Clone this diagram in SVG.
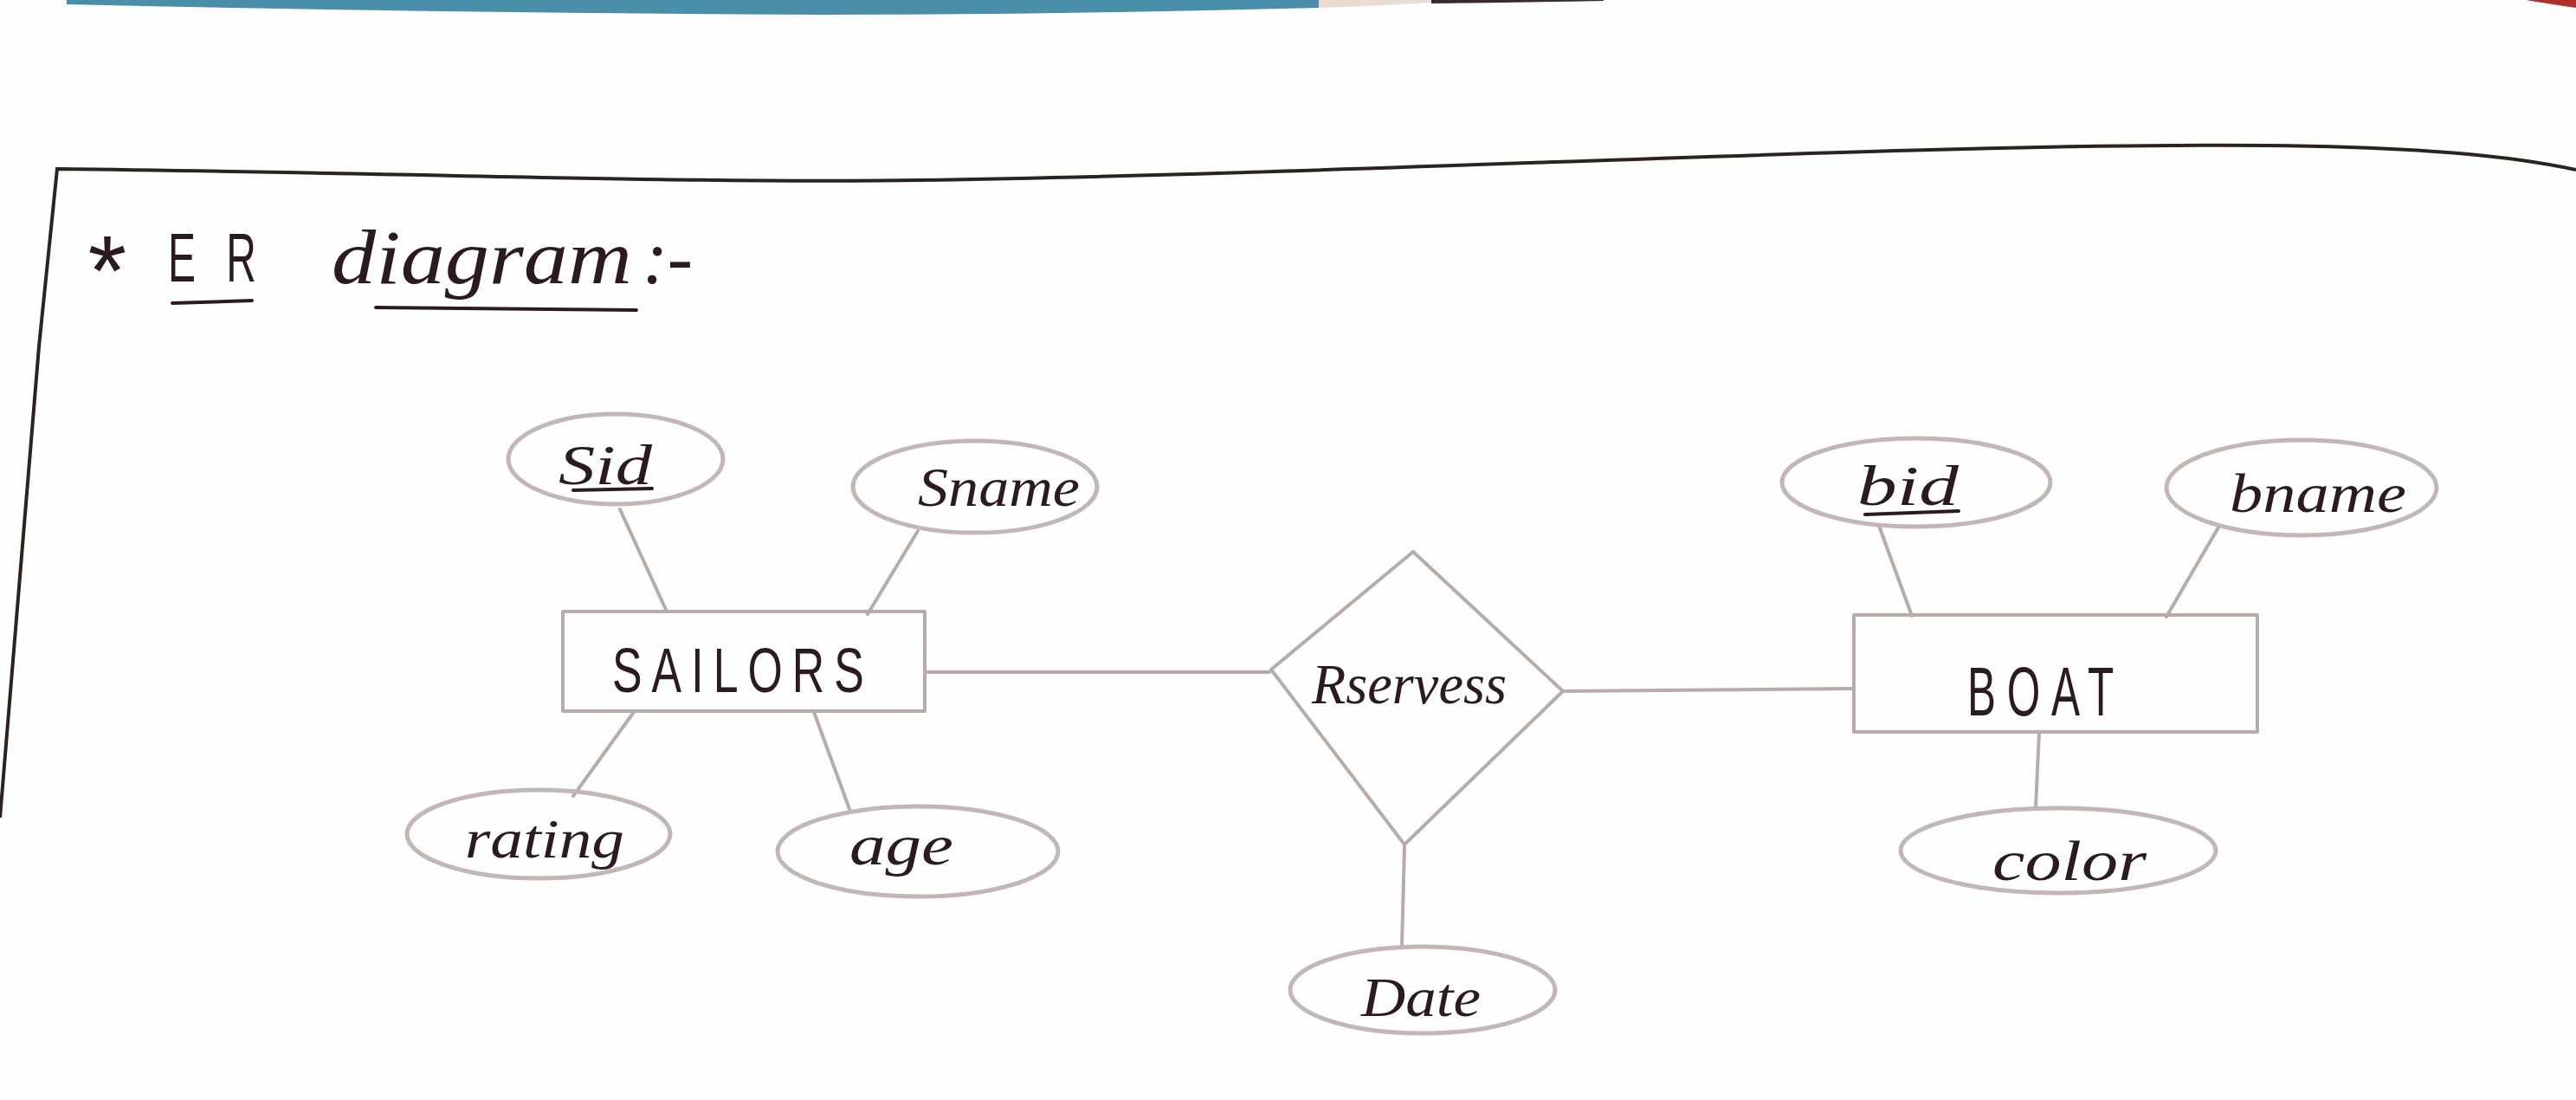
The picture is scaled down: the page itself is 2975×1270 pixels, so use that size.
<svg xmlns="http://www.w3.org/2000/svg" width="2975" height="1270" viewBox="0 0 2975 1270">
<style>
.pencil{fill:none;stroke:#b7abab;stroke-width:4;stroke-linecap:round;stroke-linejoin:round}
.oval{fill:none;stroke:#c2b6b6;stroke-width:5}
.ink{fill:#2b1a20;font-family:"Liberation Serif","DejaVu Serif",serif;font-style:italic}
.caps{fill:#2b1a20;font-family:"Liberation Sans","DejaVu Sans",sans-serif}
.uline{stroke:#2b1a20;stroke-width:4;stroke-linecap:round;fill:none}
</style>
<rect x="0" y="0" width="2975" height="1270" fill="#fefefe"/>
<g id="photo-edge">
<path d="M77,0 L1523,0 L1523,9 Q1200,17 950,17 Q500,15 77,5 Z" fill="#4a8fa9"/>
<path d="M1523,0 L1653,0 L1653,3 Q1590,7 1523,9 Z" fill="#eadbd0"/>
<path d="M1653,0 L1852,0 L1852,1 Q1750,3 1653,4 Z" fill="#3a2a2e"/>
<path d="M2917,0 L2975,0 L2975,9 Q2940,4 2917,0 Z" fill="#b03030"/>
<path d="M0,944 L45,400 L66,195 C500,200 800,212 1062,208 C1600,200 2200,165 2618,168 C2800,170 2900,180 2975,196" fill="none" stroke="#2b2222" stroke-width="4"/>
</g>
<g id="title">
<text class="caps" x="124" y="352" font-size="115" text-anchor="middle">*</text>
<text class="caps" transform="translate(194,325) scale(0.6,1)" font-size="80" textLength="170" lengthAdjust="spacing">ER</text>
<line class="uline" x1="199" y1="350" x2="291" y2="347"/>
<text class="ink" x="383" y="327" font-size="88" textLength="347" lengthAdjust="spacingAndGlyphs">diagram</text>
<line class="uline" x1="434" y1="355" x2="735" y2="358"/>
<text class="ink" x="742" y="327" font-size="88" textLength="58" lengthAdjust="spacing">:-</text>
</g>
<g id="connectors">
<line class="pencil" x1="716" y1="588" x2="770" y2="706"/>
<line class="pencil" x1="1060" y1="613" x2="1002" y2="709"/>
<line class="pencil" x1="732" y1="822" x2="662" y2="919"/>
<line class="pencil" x1="940" y1="822" x2="981" y2="934"/>
<line class="pencil" x1="1068" y1="776" x2="1466" y2="776"/>
<line class="pencil" x1="1806" y1="798" x2="2140" y2="795"/>
<line class="pencil" x1="1622" y1="977" x2="1619" y2="1093"/>
<line class="pencil" x1="2170" y1="607" x2="2208" y2="711"/>
<line class="pencil" x1="2562" y1="609" x2="2502" y2="712"/>
<line class="pencil" x1="2355" y1="845" x2="2351" y2="933"/>
</g>
<g id="sid">
<ellipse class="oval" cx="711" cy="530" rx="124" ry="52"/>
<text class="ink" x="645" y="559" font-size="66" textLength="108" lengthAdjust="spacingAndGlyphs">Sid</text>
<line class="uline" x1="662" y1="566" x2="753" y2="564"/>
</g>
<g id="sname">
<ellipse class="oval" cx="1126" cy="562" rx="141" ry="53"/>
<text class="ink" x="1060" y="584" font-size="64" textLength="187" lengthAdjust="spacingAndGlyphs">Sname</text>
</g>
<g id="sailors">
<rect class="pencil" x="650" y="706" width="418" height="115"/>
<text class="caps" transform="translate(707,799) scale(0.72,1)" font-size="72" textLength="404" lengthAdjust="spacing">SAILORS</text>
</g>
<g id="rating">
<ellipse class="oval" cx="622" cy="963" rx="152" ry="51"/>
<text class="ink" x="537" y="990" font-size="64" textLength="184" lengthAdjust="spacingAndGlyphs">rating</text>
</g>
<g id="age">
<ellipse class="oval" cx="1060" cy="983" rx="162" ry="52"/>
<text class="ink" x="981" y="998" font-size="66" textLength="120" lengthAdjust="spacingAndGlyphs">age</text>
</g>
<g id="reserves">
<polygon class="pencil" points="1632,637 1805,798 1622,975 1468,773"/>
<text class="ink" x="1515" y="812" font-size="66" textLength="225" lengthAdjust="spacingAndGlyphs">Rservess</text>
</g>
<g id="date">
<ellipse class="oval" cx="1643" cy="1143" rx="153" ry="50"/>
<text class="ink" x="1572" y="1173" font-size="64" textLength="138" lengthAdjust="spacingAndGlyphs">Date</text>
</g>
<g id="bid">
<ellipse class="oval" cx="2213" cy="557" rx="155" ry="51"/>
<text class="ink" x="2145" y="583" font-size="66" textLength="117" lengthAdjust="spacingAndGlyphs">bid</text>
<line class="uline" x1="2154" y1="594" x2="2262" y2="590"/>
</g>
<g id="bname">
<ellipse class="oval" cx="2658" cy="563" rx="156" ry="55"/>
<text class="ink" x="2575" y="591" font-size="64" textLength="204" lengthAdjust="spacingAndGlyphs">bname</text>
</g>
<g id="boat">
<rect class="pencil" x="2141" y="710" width="466" height="135"/>
<text class="caps" transform="translate(2272,826) scale(0.62,1)" font-size="80" textLength="273" lengthAdjust="spacing">BOAT</text>
</g>
<g id="color">
<ellipse class="oval" cx="2377" cy="982" rx="182" ry="49"/>
<text class="ink" x="2301" y="1016" font-size="66" textLength="178" lengthAdjust="spacingAndGlyphs">color</text>
</g>
</svg>
